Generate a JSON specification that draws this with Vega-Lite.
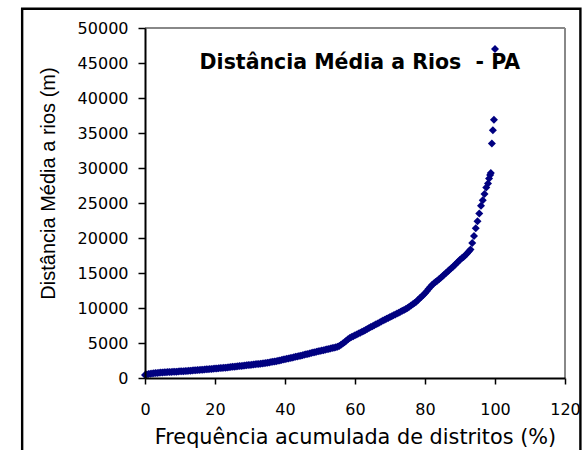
{
  "$schema": "https://vega.github.io/schema/vega-lite/v6.json",
  "width": 420,
  "height": 350,
  "autosize": {"type": "none"},
  "padding": {"left": 145, "top": 28, "right": 23, "bottom": 72},
  "background": "white",
  "config": {
    "view": {"stroke": null},
    "axis": {
      "zindex": 1,
      "grid": false,
      "domainColor": "black",
      "domainWidth": 2,
      "tickColor": "black",
      "tickWidth": 1.5,
      "labelColor": "black",
      "titleColor": "black",
      "labelFont": "DejaVu Sans",
      "labelFontSize": 16,
      "labelOverlap": false,
      "labelBound": false,
      "labelFlush": false,
      "titleFontWeight": "normal"
    },
    "axisX": {
      "values": [0, 20, 40, 60, 80, 100, 120],
      "tickSize": 6,
      "labelPadding": 17,
      "titleFont": "DejaVu Sans",
      "titleFontSize": 20.8,
      "titleBaseline": "alphabetic",
      "titleX": 210,
      "titleY": 65,
      "titleAlign": "center"
    },
    "axisY": {
      "values": [0, 5000, 10000, 15000, 20000, 25000, 30000, 35000, 40000, 45000, 50000],
      "tickCount": 11,
      "tickSize": 7,
      "labelPadding": 10,
      "titleFont": "Liberation Sans",
      "titleFontSize": 20,
      "titleBaseline": "alphabetic",
      "titleAngle": -90,
      "titleX": -91,
      "titleY": 155,
      "titleAlign": "center"
    }
  },
  "encoding": {
    "x": {
      "field": "x", "type": "quantitative",
      "scale": {"domain": [0, 120], "nice": false},
      "axis": {"title": "Frequência acumulada de distritos (%)", "values": [0, 20, 40, 60, 80, 100, 120], "zindex": 1}
    },
    "y": {
      "field": "y", "type": "quantitative",
      "scale": {"domain": [0, 50000], "nice": false},
      "axis": {"title": "Distância Média a rios (m)", "format": "d", "values": [0, 5000, 10000, 15000, 20000, 25000, 30000, 35000, 40000, 45000, 50000], "labelOverlap": false, "zindex": 1}
    }
  },
  "datasets": {
    "pts": [
      {"x":0,"y":430},{"x":0.5,"y":500},{"x":1,"y":560},{"x":1.5,"y":610},{"x":2,"y":650},{"x":2.5,"y":690},{"x":3,"y":720},{"x":3.5,"y":730},{"x":4,"y":760},{"x":4.5,"y":780},
      {"x":5,"y":800},{"x":5.5,"y":810},{"x":6,"y":830},{"x":6.5,"y":840},{"x":7,"y":850},{"x":7.5,"y":870},{"x":8,"y":880},{"x":8.5,"y":890},{"x":9,"y":910},{"x":9.5,"y":930},
      {"x":10,"y":950},{"x":10.5,"y":960},{"x":11,"y":980},{"x":11.5,"y":1000},{"x":12,"y":1010},{"x":12.5,"y":1040},{"x":13,"y":1050},{"x":13.5,"y":1070},{"x":14,"y":1090},{"x":14.5,"y":1110},
      {"x":15,"y":1130},{"x":15.5,"y":1150},{"x":16,"y":1170},{"x":16.5,"y":1190},{"x":17,"y":1210},{"x":17.5,"y":1240},{"x":18,"y":1260},{"x":18.5,"y":1280},{"x":19,"y":1300},{"x":19.5,"y":1330},
      {"x":20,"y":1350},{"x":20.5,"y":1370},{"x":21,"y":1390},{"x":21.5,"y":1420},{"x":22,"y":1440},{"x":22.5,"y":1460},{"x":23,"y":1480},{"x":23.5,"y":1510},{"x":24,"y":1530},{"x":24.5,"y":1560},
      {"x":25,"y":1590},{"x":25.5,"y":1610},{"x":26,"y":1640},{"x":26.5,"y":1670},{"x":27,"y":1700},{"x":27.5,"y":1730},{"x":28,"y":1760},{"x":28.5,"y":1790},{"x":29,"y":1810},{"x":29.5,"y":1840},
      {"x":30,"y":1870},{"x":30.5,"y":1900},{"x":31,"y":1930},{"x":31.5,"y":1960},{"x":32,"y":1990},{"x":32.5,"y":2010},{"x":33,"y":2040},{"x":33.5,"y":2070},{"x":34,"y":2100},{"x":34.5,"y":2140},
      {"x":35,"y":2190},{"x":35.5,"y":2230},{"x":36,"y":2270},{"x":36.5,"y":2320},{"x":37,"y":2360},{"x":37.5,"y":2410},{"x":38,"y":2450},{"x":38.5,"y":2510},{"x":39,"y":2570},{"x":39.5,"y":2630},
      {"x":40,"y":2680},{"x":40.5,"y":2740},{"x":41,"y":2800},{"x":41.5,"y":2860},{"x":42,"y":2910},{"x":42.5,"y":2970},{"x":43,"y":3030},{"x":43.5,"y":3080},{"x":44,"y":3140},{"x":44.5,"y":3190},
      {"x":45,"y":3250},{"x":45.5,"y":3310},{"x":46,"y":3380},{"x":46.5,"y":3440},{"x":47,"y":3500},{"x":47.5,"y":3560},{"x":48,"y":3630},{"x":48.5,"y":3690},{"x":49,"y":3750},{"x":49.5,"y":3810},
      {"x":50,"y":3870},{"x":50.5,"y":3930},{"x":51,"y":3980},{"x":51.5,"y":4040},{"x":52,"y":4100},{"x":52.5,"y":4160},{"x":53,"y":4220},{"x":53.5,"y":4280},{"x":54,"y":4330},{"x":54.5,"y":4390},
      {"x":55,"y":4450},{"x":55.5,"y":4580},{"x":56,"y":4740},{"x":56.5,"y":4920},{"x":57,"y":5120},{"x":57.5,"y":5330},{"x":58,"y":5530},{"x":58.5,"y":5700},{"x":59,"y":5840},{"x":59.5,"y":5970},
      {"x":60,"y":6100},{"x":60.5,"y":6230},{"x":61,"y":6350},{"x":61.5,"y":6480},{"x":62,"y":6600},{"x":62.5,"y":6730},{"x":63,"y":6870},{"x":63.5,"y":7000},{"x":64,"y":7130},{"x":64.5,"y":7270},
      {"x":65,"y":7400},{"x":65.5,"y":7530},{"x":66,"y":7670},{"x":66.5,"y":7800},{"x":67,"y":7930},{"x":67.5,"y":8070},{"x":68,"y":8200},{"x":68.5,"y":8330},{"x":69,"y":8450},{"x":69.5,"y":8580},
      {"x":70,"y":8700},{"x":70.5,"y":8830},{"x":71,"y":8950},{"x":71.5,"y":9080},{"x":72,"y":9200},{"x":72.5,"y":9330},{"x":73,"y":9470},{"x":73.5,"y":9600},{"x":74,"y":9730},{"x":74.5,"y":9870},
      {"x":75,"y":10000},{"x":75.5,"y":10180},{"x":76,"y":10360},{"x":76.5,"y":10540},{"x":77,"y":10720},{"x":77.5,"y":10900},{"x":78,"y":11140},{"x":78.5,"y":11380},{"x":79,"y":11620},{"x":79.5,"y":11860},
      {"x":80,"y":12100},{"x":80.5,"y":12400},{"x":81,"y":12700},{"x":81.5,"y":13000},{"x":82,"y":13300},{"x":82.5,"y":13500},{"x":83,"y":13700},{"x":83.5,"y":13900},{"x":84,"y":14100},{"x":84.5,"y":14330},
      {"x":85,"y":14550},{"x":85.5,"y":14780},{"x":86,"y":15000},{"x":86.5,"y":15230},{"x":87,"y":15450},{"x":87.5,"y":15680},{"x":88,"y":15900},{"x":88.5,"y":16150},{"x":89,"y":16400},{"x":89.5,"y":16650},
      {"x":90,"y":16900},{"x":90.5,"y":17100},{"x":91,"y":17300},{"x":91.5,"y":17550},{"x":92,"y":17800},{"x":92.5,"y":18080},{"x":93,"y":18350},{"x":93.5,"y":19300},{"x":94,"y":20300},{"x":94.5,"y":21400},
      {"x":95,"y":22400},{"x":95.5,"y":23500},{"x":96,"y":24600},{"x":96.5,"y":25400},{"x":97,"y":26300},{"x":97.5,"y":27200},{"x":98,"y":27800},{"x":98.3,"y":28500},{"x":98.6,"y":29000},{"x":98.8,"y":29300},
      {"x":99.1,"y":33500},{"x":99.4,"y":35400},{"x":99.7,"y":36900},{"x":100,"y":47000}
    ]
  },
  "layer": [
    {
      "data": {"values": [{"x": -35.1, "x1": 124.4, "y": 52740, "y1": -12000}]},
      "mark": {"type": "rect", "fill": "#ffffff", "fillOpacity": 1, "stroke": "#000000", "strokeWidth": 2.4, "clip": false},
      "encoding": {
        "x2": {"field": "x1"},
        "y2": {"field": "y1"}
      }
    },
    {
      "data": {"values": [{"x": 0, "x1": 120, "y": 50000}]},
      "mark": {"type": "rule", "color": "#888888", "strokeWidth": 2},
      "encoding": {
        "x2": {"field": "x1"}
      }
    },
    {
      "data": {"values": [{"x": 120, "y": 0, "y1": 50000}]},
      "mark": {"type": "rule", "color": "#888888", "strokeWidth": 2},
      "encoding": {
        "y2": {"field": "y1"}
      }
    },
    {
      "data": {"name": "pts"},
      "mark": {"type": "point", "shape": "diamond", "filled": true, "size": 64, "color": "#000080", "opacity": 1, "strokeWidth": 0}
    },
    {
      "data": {"values": [{"x": 61.4, "y": 44140, "label": "Distância Média a Rios\u00a0\u00a0- PA"}]},
      "mark": {"type": "text", "font": "DejaVu Sans", "fontWeight": "bold", "fontSize": 20.5, "align": "center", "baseline": "alphabetic", "color": "black"},
      "encoding": {
        "text": {"field": "label"}
      }
    }
  ]
}
